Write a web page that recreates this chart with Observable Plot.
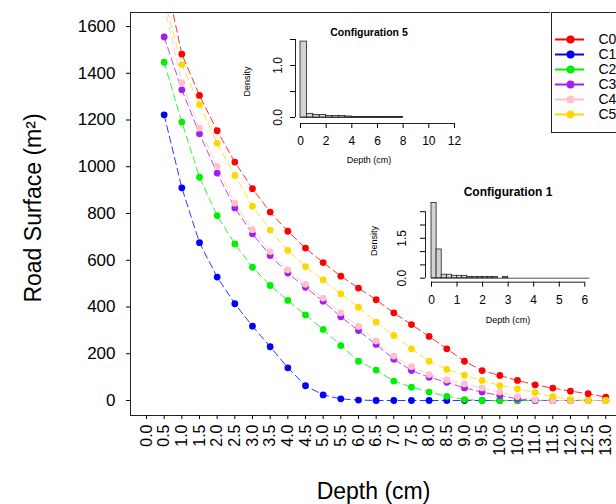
<!DOCTYPE html>
<html><head><meta charset="utf-8">
<script src="https://cdn.jsdelivr.net/npm/d3@7"></script>
<script src="https://cdn.jsdelivr.net/npm/@observablehq/plot@0.6"></script>
<style>
html,body{margin:0;padding:0;background:#fff;overflow:hidden;}
#wrap{position:relative;width:616px;height:504px;overflow:hidden;}
#wrap svg{position:absolute;}
</style></head><body><div id="wrap"></div>
<script>
// ---------- data ----------
const depths = [0.5,1.0,1.5,2.0,2.5,3.0,3.5,4.0,4.5,5.0,5.5,6.0,6.5,7.0,7.5,8.0,8.5,9.0,9.5,10.0,10.5,11.0,11.5,12.0,12.5,13.0];
const C0 = [1835,1482,1305,1154,1020,906,806,724,652,590,532,481,431,375,325,274,221,168,128,107,86,67,53,40,29,14];
const C1 = [1222,910,675,528,414,318,230,140,63,24,7,2,0,0,0,0,0,0,0,0,0,0,0,0,0,0];
const C2 = [1447,1191,955,791,670,570,492,428,366,304,235,168,130,83,57,36,18,4,0,0,0,0,0,0,0,0];
const C3 = [1555,1329,1141,973,824,713,620,545,484,425,358,299,240,177,128,100,78,54,36,21,7,0,0,0,0,0];
const C4 = [1690,1360,1165,1002,844,731,637,559,497,438,375,317,255,190,145,111,88,71,54,36,17,3,0,0,0,0];
const C5 = [1715,1437,1266,1101,963,831,729,642,573,516,456,399,335,278,221,168,133,108,86,64,50,34,17,4,0,0];
const seriesNames = ["C0","C1","C2","C3","C4","C5"];
const seriesColors = ["#ff0000","#0000ff","#00f000","#a020f0","#ffc0cb","#ffd700"];
const xTicks = [0,0.5,1,1.5,2,2.5,3,3.5,4,4.5,5,5.5,6,6.5,7,7.5,8,8.5,9,9.5,10,10.5,11,11.5,12,12.5,13];
const yTicks = [0,200,400,600,800,1000,1200,1400,1600];

// inset histograms
const h5Start = [0,0.5,1,1.5,2,2.5,3,3.5,4,4.5,5,5.5,6,6.5,7,7.5];
const h5Density = [1.46,0.07,0.05,0.05,0.03,0.03,0.03,0.02,0.01,0.01,0.01,0.01,0.01,0.01,0.01,0.01];
const h5Width = 0.5;
const h5XTicks = [0,2,4,6,8,10,12];
const h5YTicks = [0,0.5,1,1.5];
const h5YLabels = [0,1];

const h1Start = [0,0.2,0.4,0.6,0.8,1.0,1.2,1.4,1.6,1.8,2.0,2.2,2.4,2.6,2.8];
const h1Density = [2.83,1.08,0.13,0.13,0.09,0.09,0.09,0.05,0.05,0.05,0.05,0.05,0.05,0,0.05];
const h1Width = 0.2;
const h1End = 6.2;
const h1XTicks = [0,1,2,3,4,5,6];
const h1YTicks = [0,0.5,1,1.5,2,2.5];
const h1YLabels = [0,1.5];

// ---------- build ----------
const FONT = "'Liberation Sans', Arial, sans-serif";
const wrap = document.getElementById("wrap");
const seriesValues = [C0,C1,C2,C3,C4,C5];
const rows = seriesNames.flatMap((s,i)=>depths.map((d,j)=>({series:s, depth:d, value:seriesValues[i][j]})));

// main plot geometry (pixels)
const W = 616, H = 504, mL = 130, mR = 0, mT = 12, mB = 89;
const xZeroPx = 146, xPpu = 35.33;   // depth 0 at 146 px
const yZeroPx = 400, yPpu = 0.23375; // value 0 at 400 px
const xDom = [(mL - xZeroPx)/xPpu, (W - mR - xZeroPx)/xPpu];
const yDom = [(yZeroPx - (H - mB))/yPpu, (yZeroPx - mT)/yPpu];

const main = Plot.plot({
  width: W, height: H,
  marginLeft: mL, marginRight: mR, marginTop: mT, marginBottom: mB,
  style: {fontFamily: FONT, color: "#000", background: "transparent"},
  x: {domain: xDom},
  y: {domain: yDom},
  color: {domain: seriesNames, range: seriesColors},
  marks: [
    Plot.line(rows, {x:"depth", y:"value", z:"series", stroke:"series", strokeWidth:1, strokeOpacity:0.8, strokeDasharray:"7,4", clip:true}),
    Plot.dot(rows, {x:"depth", y:"value", fill:"series", r:3.4, clip:true}),
    Plot.ruleX([xDom[0]], {stroke:"#222"}),
    Plot.ruleY([yDom[0]], {stroke:"#222"}),
    Plot.ruleY([yDom[1]], {stroke:"#222"}),
    Plot.axisY({ticks: yTicks, tickSize: 4, tickPadding: 11, fontSize: 17, label: null, tickFormat: d => String(d)}),
    Plot.axisX({ticks: xTicks, tickSize: 4, tickPadding: 5, tickRotate: -90, fontSize: 16, label: null, tickFormat: d3.format(".1f")}),
    Plot.text(["Road Surface (m²)"], {frameAnchor:"left", textAnchor:"middle", lineAnchor:"middle", dx:-97, dy:-6, rotate:-90, fontSize:23, text: d=>d}),
    Plot.text(["Depth (cm)"], {frameAnchor:"bottom", textAnchor:"middle", lineAnchor:"middle", dx:0, dy:76, fontSize:23, text: d=>d})
  ]
});
main.style.left = "0px"; main.style.top = "0px";
wrap.appendChild(main);

// generic inset builder
function inset(cfg) {
  const {SL, ST, SW, SH, L, R, T, B, x0, xppu, y0, yppu, start, dens, width, end, xTicks, yTicks, yLabels, title, titleSize, titleDx, titleDy, depthDx, depthDy, densDx, densDy, yLabDx} = cfg;
  const xAt = px => (px - x0)/xppu;
  const yAt = py => (y0 - py)/yppu;
  const bins = start.map((s,i)=>({x1:s, x2:s+width, d:dens[i]}));
  const p = Plot.plot({
    width: SW, height: SH,
    marginLeft: L - SL, marginRight: SL + SW - R, marginTop: T - ST, marginBottom: ST + SH - B,
    style: {fontFamily: FONT, color: "#000", background: "transparent"},
    x: {domain: [xAt(L), xAt(R)]},
    y: {domain: [yAt(B), yAt(T)]},
    marks: [
      Plot.ruleY([0], {x1: 0, x2: end, stroke:"#222", strokeWidth:0.8}),
      Plot.rectY(bins.filter(b=>b.d>0), {x1:"x1", x2:"x2", y:"d", fill:"#d3d3d3", stroke:"#222", strokeWidth:0.8, insetLeft:0, insetRight:0}),
      Plot.ruleX([xAt(L)], {y1: 0, y2: yTicks[yTicks.length-1], stroke:"#222"}),
      Plot.ruleY([yAt(B)], {x1: xTicks[0], x2: xTicks[xTicks.length-1], stroke:"#222"}),
      Plot.axisY({ticks: yTicks, tickSize: 5, tickFormat: () => "", label: null}),
      Plot.text(yLabels, {frameAnchor:"left", textAnchor:"middle", lineAnchor:"middle", y: d=>d, text: d=>d.toFixed(1), rotate:-90, dx:yLabDx, fontSize:12}),
      Plot.axisX({ticks: xTicks, tickSize: 5, tickPadding: 8, fontSize: 12, label: null, tickFormat: d => String(d)}),
      Plot.text([title], {frameAnchor:"top", textAnchor:"middle", lineAnchor:"middle", dx:titleDx, dy:titleDy, fontWeight:"bold", fontSize:titleSize, text:d=>d}),
      Plot.text(["Depth (cm)"], {frameAnchor:"bottom", textAnchor:"middle", lineAnchor:"middle", dx:depthDx, dy:depthDy, fontSize:9, text:d=>d}),
      Plot.text(["Density"], {frameAnchor:"left", textAnchor:"middle", lineAnchor:"middle", dx:densDx, dy:densDy, rotate:-90, fontSize:9, text:d=>d})
    ]
  });
  p.style.left = SL + "px"; p.style.top = ST + "px";
  wrap.appendChild(p);
}

inset({SL:228, ST:0, SW:252, SH:175, L:295, R:460, T:39, B:123,
  x0:300, xppu:12.83, y0:117, yppu:52,
  start:h5Start, dens:h5Density, width:h5Width, end:8,
  xTicks:h5XTicks, yTicks:h5YTicks, yLabels:h5YLabels,
  title:"Configuration 5", titleSize:10.5, titleDx:-9, titleDy:-7,
  depthDx:-9, depthDy:37, densDx:-48, densDy:0, yLabDx:-17});

inset({SL:352, ST:170, SW:264, SH:165, L:425, R:590, T:211.2, B:281.7,
  x0:431, xppu:25.55, y0:277.7, yppu:26.6,
  start:h1Start, dens:h1Density, width:h1Width, end:h1End,
  xTicks:h1XTicks, yTicks:h1YTicks, yLabels:h1YLabels,
  title:"Configuration 1", titleSize:12, titleDx:0, titleDy:-19.5,
  depthDx:0, depthDy:38, densDx:-51, densDy:-6, yLabDx:-23});

// legend
const legend = Plot.plot({
  width: 72, height: 122,
  marginLeft: 1, marginRight: 0, marginTop: 1, marginBottom: 1,
  style: {fontFamily: FONT, color: "#000", background: "#fff"},
  x: {domain: [0, 71], range: [1, 72], axis: null},
  y: {type: "point", domain: seriesNames, range: [19, 111.3], axis: null},
  color: {domain: seriesNames, range: seriesColors},
  marks: [
    Plot.frame({stroke:"#222"}),
    Plot.ruleY(seriesNames, {y: d=>d, x1: 4, x2: 33, stroke: d=>d, strokeWidth: 2}),
    Plot.dot(seriesNames, {x: 19, y: d=>d, fill: d=>d, r: 4}),
    Plot.text(seriesNames, {x: 47, y: d=>d, text: d=>d, textAnchor:"start", fontSize: 14})
  ]
});
legend.style.left = "550px"; legend.style.top = "11px";
wrap.appendChild(legend);
</script></body></html>
